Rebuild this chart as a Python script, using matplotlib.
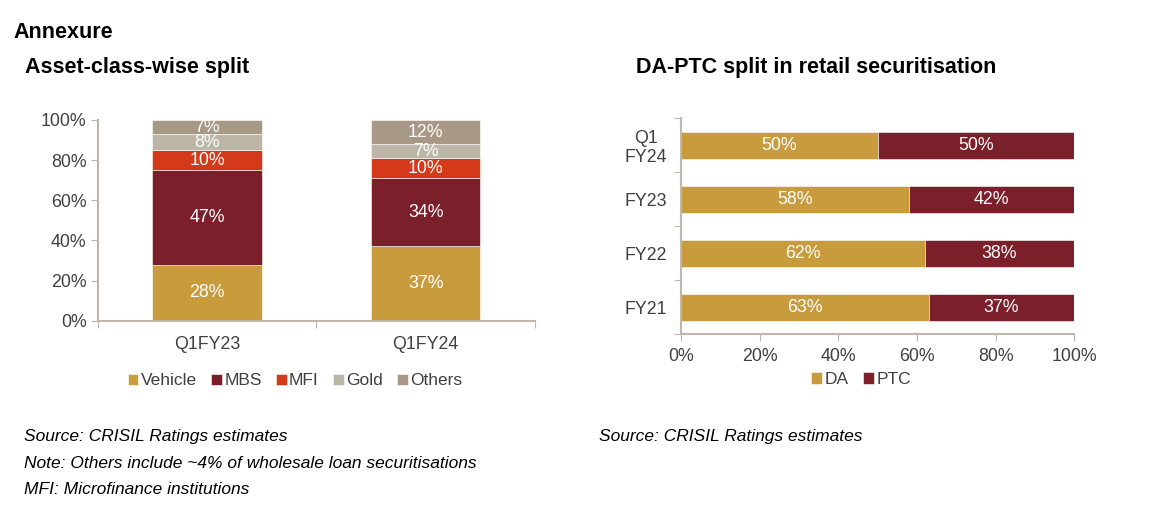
import matplotlib.pyplot as plt
import numpy as np

plt.rcParams["font.family"] = ["Liberation Sans", "DejaVu Sans"]

# asset-class-wise split (%)
periods = ["Q1FY23", "Q1FY24"]
asset_classes = ["Vehicle", "MBS", "MFI", "Gold", "Others"]
vehicle = [28, 37]
mbs = [47, 34]
mfi = [10, 10]
gold = [8, 7]
others = [7, 12]

# DA-PTC split (%), top to bottom
years = ["Q1\nFY24", "FY23", "FY22", "FY21"]
da = [50, 58, 62, 63]
ptc = [50, 42, 38, 37]

colors = {
    "Vehicle": "#C89B3C",
    "MBS": "#7B1F2A",
    "MFI": "#D43A1A",
    "Gold": "#BDB5A8",
    "Others": "#A89886",
}
AXIS = "#BFB7AB"
TXT = "#404040"
FS = 12.8
TITLE_FS = 15.5

W, H = 1171, 523
fig = plt.figure(figsize=(W / 100, H / 100), dpi=100)


def px(x0, y_top, x1, y_bot):
    return [x0 / W, 1 - y_bot / H, (x1 - x0) / W, (y_bot - y_top) / H]


fig.text(13 / W, 1 - 32 / H, "Annexure", fontsize=TITLE_FS, fontweight="bold", va="center")
fig.text(25 / W, 1 - 68 / H, "Asset-class-wise split", fontsize=TITLE_FS, fontweight="bold",
         va="center")
fig.text(636 / W, 1 - 68 / H, "DA-PTC split in retail securitisation", fontsize=TITLE_FS,
         fontweight="bold", va="center")

legend_kw = dict(loc="center", frameon=False, handlelength=0.62, handleheight=0.62,
                 handletextpad=0.15, columnspacing=0.8, fontsize=12.5, labelcolor=TXT,
                 borderpad=0)

# left chart
ax = fig.add_axes(px(97.7, 120, 535, 320.7))
x = np.arange(len(periods)) + 0.5
bottom = np.zeros(len(periods))
series = [vehicle, mbs, mfi, gold, others]
for name, vals in zip(asset_classes, series):
    vals = np.array(vals)
    ax.bar(x, vals, 0.5, bottom=bottom, color=colors[name], label=name,
           edgecolor="white", linewidth=0.4)
    for xi, b, v in zip(x, bottom, vals):
        ax.text(xi, b + v / 2, f"{v}%", ha="center", va="center", color="white", fontsize=FS)
    bottom += vals

ax.set_xlim(0, len(periods))
ax.set_ylim(0, 100)
ax.set_yticks(range(0, 101, 20))
ax.set_yticklabels([f"{t}%" for t in range(0, 101, 20)])
ax.set_xticks(range(len(periods) + 1))
ax.set_xticklabels([])
ax.set_xticks(x, minor=True)
ax.set_xticklabels(periods, minor=True)
ax.tick_params(axis="x", which="major", length=5, color=AXIS)
ax.tick_params(axis="x", which="minor", length=0, pad=11, labelsize=FS, labelcolor=TXT)
ax.tick_params(axis="y", length=5, color=AXIS, labelsize=FS, labelcolor=TXT, pad=3)
for s in ["top", "right"]:
    ax.spines[s].set_visible(False)
for s in ["left", "bottom"]:
    ax.spines[s].set_color(AXIS)
    ax.spines[s].set_linewidth(1.5)
ax.legend(bbox_to_anchor=(0.451, -0.3), ncol=5, **legend_kw)

# right chart
ax2 = fig.add_axes(px(681, 118.3, 1074.3, 334.3))
y = np.arange(len(years))[::-1] + 0.5
ax2.barh(y, da, 0.5, color=colors["Vehicle"], label="DA", edgecolor="white", linewidth=0.4)
ax2.barh(y, ptc, 0.5, left=da, color=colors["MBS"], label="PTC", edgecolor="white", linewidth=0.4)
for yi, a, p in zip(y, da, ptc):
    ax2.text(a / 2, yi, f"{a}%", ha="center", va="center", color="white", fontsize=FS)
    ax2.text(a + p / 2, yi, f"{p}%", ha="center", va="center", color="white", fontsize=FS)

ax2.set_xlim(0, 100)
ax2.set_ylim(0, len(years))
ax2.set_xticks(range(0, 101, 20))
ax2.set_xticklabels([f"{t}%" for t in range(0, 101, 20)])
ax2.set_yticks(range(len(years) + 1))
ax2.set_yticklabels([])
ax2.set_yticks(y, minor=True)
ax2.set_yticklabels(years, minor=True, multialignment="center", linespacing=1.1)
ax2.tick_params(axis="y", which="major", length=5, color=AXIS)
ax2.tick_params(axis="y", which="minor", length=0, pad=10, labelsize=FS, labelcolor=TXT)
ax2.tick_params(axis="x", length=5, color=AXIS, labelsize=FS, labelcolor=TXT, pad=5)
for s in ["top", "right"]:
    ax2.spines[s].set_visible(False)
for s in ["left", "bottom"]:
    ax2.spines[s].set_color(AXIS)
    ax2.spines[s].set_linewidth(1.5)
ax2.legend(bbox_to_anchor=(0.458, -0.21), ncol=2, **legend_kw)

notes = [
    "Source: CRISIL Ratings estimates",
    "Note: Others include ~4% of wholesale loan securitisations",
    "MFI: Microfinance institutions",
]
for i, n in enumerate(notes):
    fig.text(24 / W, 1 - (436 + 27 * i) / H, n, fontsize=12.5, style="italic", va="center")
fig.text(599 / W, 1 - 436 / H, "Source: CRISIL Ratings estimates", fontsize=12.5,
         style="italic", va="center")

fig.savefig("out.png", dpi=100)
